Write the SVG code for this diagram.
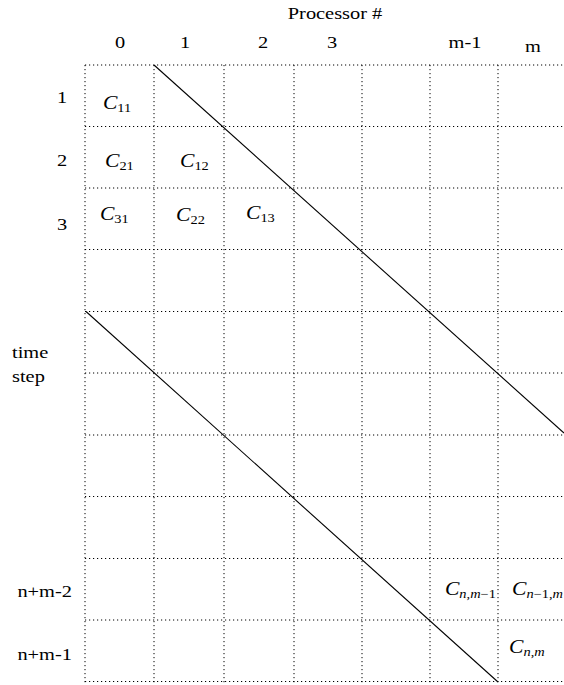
<svg xmlns="http://www.w3.org/2000/svg" width="564" height="685" viewBox="0 0 564 685">
<style>
.grid line{stroke:#000;stroke-width:1;stroke-dasharray:1.2 2.8;}
.diag line{stroke:#000;stroke-width:1.1;}
text{font-family:"Liberation Serif","Times New Roman","DejaVu Serif",serif;font-size:17px;fill:#000;}
.lbl{text-anchor:middle;}
.c{font-size:18px;font-style:italic;}
.s{font-size:12px;font-style:normal;}
.i{font-style:italic;}
</style>
<rect width="564" height="685" fill="#fff"/>
<g id="grid" class="grid">
<line x1="85" y1="65" x2="564" y2="65"/>
<line x1="85" y1="126.5" x2="564" y2="126.5"/>
<line x1="85" y1="188" x2="564" y2="188"/>
<line x1="85" y1="249.5" x2="564" y2="249.5"/>
<line x1="85" y1="311.5" x2="564" y2="311.5"/>
<line x1="85" y1="373" x2="564" y2="373"/>
<line x1="85" y1="435" x2="564" y2="435"/>
<line x1="85" y1="496.5" x2="564" y2="496.5"/>
<line x1="85" y1="558.5" x2="564" y2="558.5"/>
<line x1="85" y1="620" x2="564" y2="620"/>
<line x1="85" y1="681.5" x2="564" y2="681.5"/>
<line x1="85" y1="65" x2="85" y2="685"/>
<line x1="154" y1="65" x2="154" y2="685"/>
<line x1="224" y1="65" x2="224" y2="685"/>
<line x1="294" y1="65" x2="294" y2="685"/>
<line x1="362" y1="65" x2="362" y2="685"/>
<line x1="430" y1="65" x2="430" y2="685"/>
<line x1="498" y1="65" x2="498" y2="685"/>
</g>
<g id="connectors" class="diag">
<line x1="154" y1="65" x2="564" y2="433"/>
<line x1="86" y1="311.5" x2="498" y2="682"/>
</g>
<g transform="scale(1.2,1)">
<g id="header">
<text x="279.2" y="19" class="lbl">Processor #</text>
<text x="100" y="48" class="lbl">0</text>
<text x="154.2" y="48" class="lbl">1</text>
<text x="219.2" y="48" class="lbl">2</text>
<text x="276.7" y="48" class="lbl">3</text>
<text x="387.5" y="48" class="lbl">m-1</text>
<text x="444.2" y="52" class="lbl">m</text>
</g>
<g id="rowlabels">
<text x="51.7" y="103" class="lbl">1</text>
<text x="51.7" y="166" class="lbl">2</text>
<text x="51.7" y="230" class="lbl">3</text>
<text x="10" y="358">time</text>
<text x="10" y="382">step</text>
<text x="14.5" y="597">n+m-2</text>
<text x="14.5" y="660">n+m-1</text>
</g>
<g id="cells">
<text x="85.8" y="109" class="c">C<tspan class="s" dy="3">11</tspan></text>
<text x="87.5" y="167" class="c">C<tspan class="s" dy="3">21</tspan></text>
<text x="150" y="167" class="c">C<tspan class="s" dy="3">12</tspan></text>
<text x="83.3" y="220" class="c">C<tspan class="s" dy="3">31</tspan></text>
<text x="146.7" y="221" class="c">C<tspan class="s" dy="3">22</tspan></text>
<text x="205" y="219" class="c">C<tspan class="s" dy="3">13</tspan></text>
<text x="370.8" y="595" class="c">C<tspan class="s i" dy="3">n</tspan><tspan class="s">,</tspan><tspan class="s i">m</tspan><tspan class="s">−1</tspan></text>
<text x="426.7" y="595" class="c">C<tspan class="s i" dy="3">n</tspan><tspan class="s">−1,</tspan><tspan class="s i">m</tspan></text>
<text x="424.2" y="653" class="c">C<tspan class="s i" dy="3">n</tspan><tspan class="s">,</tspan><tspan class="s i">m</tspan></text>
</g>
</g>
</svg>
